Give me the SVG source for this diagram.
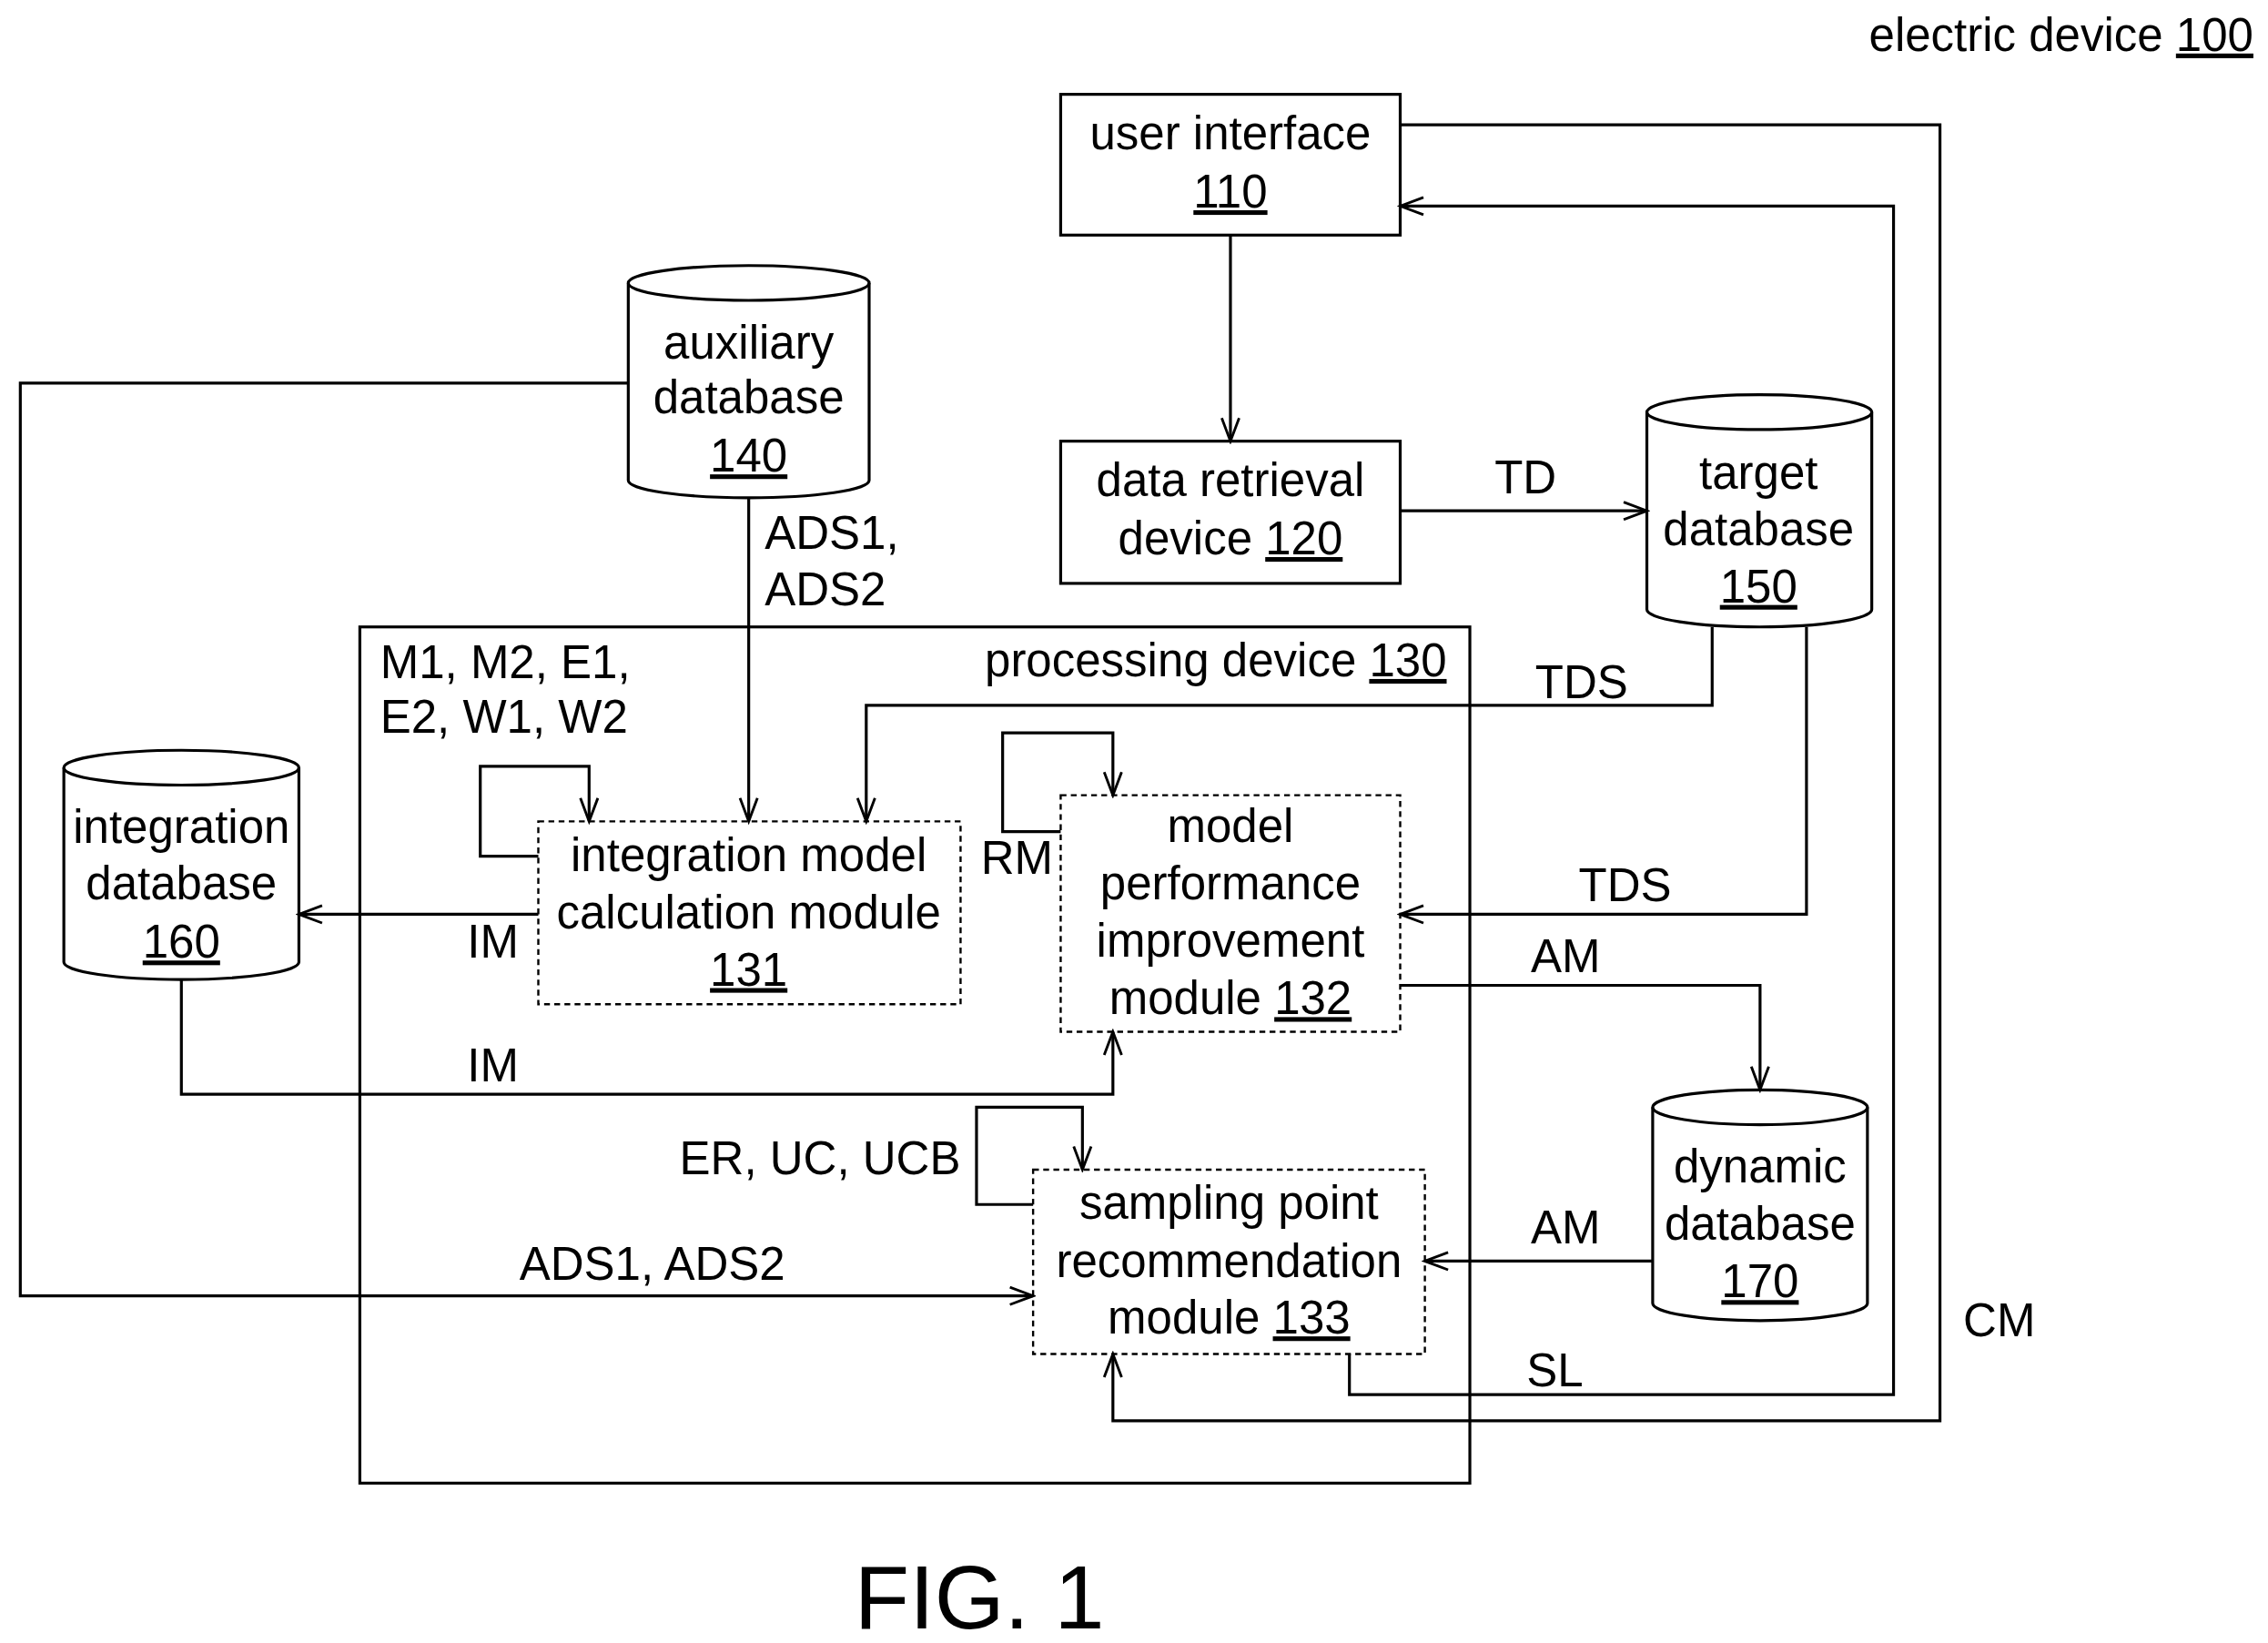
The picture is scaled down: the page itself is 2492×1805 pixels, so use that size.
<svg xmlns="http://www.w3.org/2000/svg" width="2492" height="1805" viewBox="0 0 2492 1805">
<style>
text{font-family:"Liberation Sans",Arial,sans-serif;font-size:32px;fill:#000}
.m{text-anchor:middle}
.u{text-decoration:underline}
.b{fill:#fff;stroke:#000;stroke-width:2}
.d{fill:#fff;stroke:#000;stroke-width:1.5;stroke-dasharray:4 3}
.c{fill:none;stroke:#000;stroke-width:2;marker-end:url(#a)}
</style>
<defs><marker id="a" markerWidth="20" markerHeight="14" refX="18" refY="7" orient="auto" markerUnits="userSpaceOnUse"><polyline points="2,1 18,7 2,13" fill="none" stroke="#000" stroke-width="1.8"/></marker></defs>
<rect width="2492" height="1805" fill="#fff"/>
<g transform="scale(1.5943)">
<text x="1553" y="35" text-anchor="end">electric device <tspan class="u">100</tspan></text>
<g id="proc"><rect class="b" x="248" y="432" width="765" height="590"/><text x="997" y="466" text-anchor="end">processing device <tspan class="u">130</tspan></text></g>
<g id="n110"><rect class="b" x="731" y="65" width="234" height="97"/><text class="m" x="848" y="103">user interface</text><text class="m u" x="848" y="143">110</text></g>
<g id="n120"><rect class="b" x="731" y="304" width="234" height="98"/><text class="m" x="848" y="342">data retrieval</text><text class="m" x="848" y="382">device <tspan class="u">120</tspan></text></g>
<g id="n140"><path class="b" d="M433,195 A83,12 0 0 1 599,195 V331 A83,12 0 0 1 433,331 Z"/><path d="M433,195 A83,12 0 0 0 599,195" fill="none" stroke="#000" stroke-width="2"/><text class="m" x="516" y="247">auxiliary</text><text class="m" x="516" y="285">database</text><text class="m u" x="516" y="325">140</text></g>
<g id="n150"><path class="b" d="M1135,284 A77.5,12 0 0 1 1290,284 V420 A77.5,12 0 0 1 1135,420 Z"/><path d="M1135,284 A77.5,12 0 0 0 1290,284" fill="none" stroke="#000" stroke-width="2"/><text class="m" x="1212" y="337">target</text><text class="m" x="1212" y="376">database</text><text class="m u" x="1212" y="415">150</text></g>
<g id="n160"><path class="b" d="M44,529 A81,12 0 0 1 206,529 V663 A81,12 0 0 1 44,663 Z"/><path d="M44,529 A81,12 0 0 0 206,529" fill="none" stroke="#000" stroke-width="2"/><text class="m" x="125" y="581">integration</text><text class="m" x="125" y="620">database</text><text class="m u" x="125" y="660">160</text></g>
<g id="n170"><path class="b" d="M1139,763 A74,12 0 0 1 1287,763 V898 A74,12 0 0 1 1139,898 Z"/><path d="M1139,763 A74,12 0 0 0 1287,763" fill="none" stroke="#000" stroke-width="2"/><text class="m" x="1213" y="815">dynamic</text><text class="m" x="1213" y="854">database</text><text class="m u" x="1213" y="894">170</text></g>
<g id="n131"><rect class="d" x="371" y="566" width="291" height="126"/><text class="m" x="516" y="600">integration model</text><text class="m" x="516" y="640">calculation module</text><text class="m u" x="516" y="679">131</text></g>
<g id="n132"><rect class="d" x="731" y="548" width="234" height="163"/><text class="m" x="848" y="580">model</text><text class="m" x="848" y="620">performance</text><text class="m" x="848" y="659">improvement</text><text class="m" x="848" y="699">module <tspan class="u">132</tspan></text></g>
<g id="n133"><rect class="d" x="712" y="806" width="270" height="127"/><text class="m" x="847" y="840">sampling point</text><text class="m" x="847" y="880">recommendation</text><text class="m" x="847" y="919">module <tspan class="u">133</tspan></text></g>
<g id="connectors">
<path class="c" d="M848,162 V304"/>
<path class="c" d="M965,352 H1135"/>
<path class="c" d="M516,343 V566"/>
<path class="c" d="M433,264 H14 V893 H712"/>
<path class="c" d="M371,590 H331 V528 H406 V566"/>
<path class="c" d="M1180,432 V486 H597 V566"/>
<path class="c" d="M371,630 H206"/>
<path class="c" d="M125,675 V754 H767 V711"/>
<path class="c" d="M731,573 H691 V505 H767 V548"/>
<path class="c" d="M1245,432 V630 H965"/>
<path class="c" d="M965,679 H1213 V751"/>
<path class="c" d="M1139,869 H982"/>
<path class="c" d="M712,830 H673 V763 H746 V806"/>
<path class="c" d="M930,933 V961 H1305 V142 H965"/>
<path class="c" d="M965,86 H1337 V979 H767 V933"/>
<text x="1030" y="340">TD</text>
<text x="527" y="378">ADS1,</text><text x="527" y="417">ADS2</text>
<text x="358" y="882">ADS1, ADS2</text>
<text x="262" y="467">M1, M2, E1,</text><text x="262" y="505">E2, W1, W2</text>
<text x="1058" y="481">TDS</text>
<text x="322" y="660">IM</text>
<text x="322" y="745">IM</text>
<text x="676" y="602">RM</text>
<text x="1088" y="621">TDS</text>
<text x="1055" y="670">AM</text>
<text x="1055" y="857">AM</text>
<text x="662" y="809" text-anchor="end">ER, UC, UCB</text>
<text x="1052" y="955">SL</text>
<text x="1353" y="921">CM</text>
</g>
<text class="m" x="675" y="1122" style="font-size:62px">FIG. 1</text>
</g>
</svg>
